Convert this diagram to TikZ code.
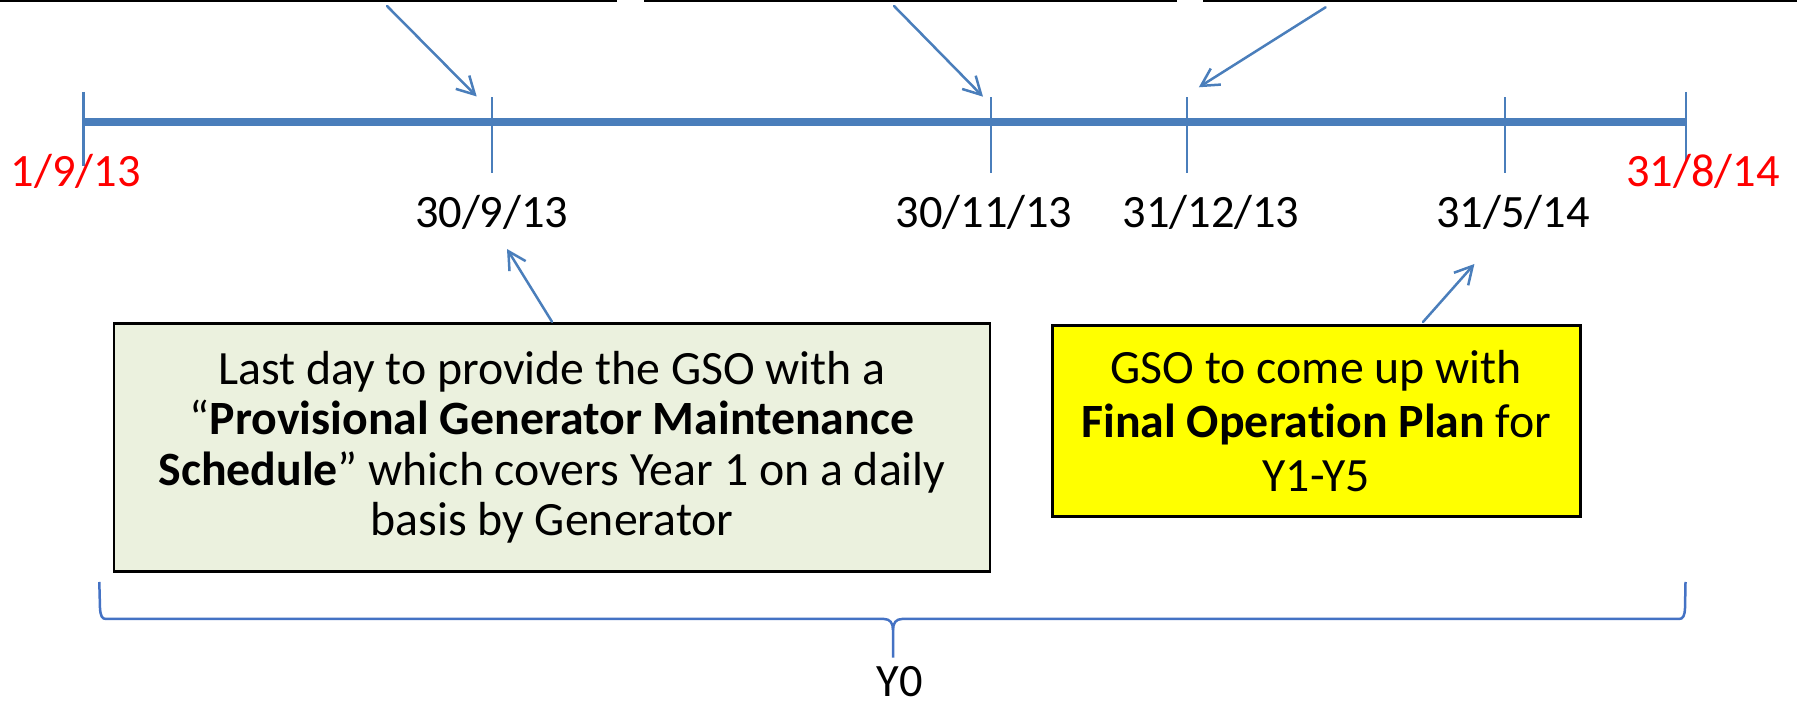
\documentclass[tikz,border=0pt]{standalone}
\usepackage{fontspec}
\setmainfont{Carlito}[Ligatures={TeX,NoCommon}]
\usetikzlibrary{arrows.meta}

\definecolor{axisblue}{HTML}{4A7EBB}
\definecolor{braceblue}{HTML}{4472C4}
\definecolor{notegreen}{HTML}{EBF1DE}
\definecolor{noteyellow}{HTML}{FFFF00}

\begin{document}
\begin{tikzpicture}[x=0.1mm, y=-0.1mm,
  timeline/.style={draw=axisblue, line width=0.8mm},
  endtick/.style={draw=axisblue, line width=0.22mm},
  datetick/.style={draw=axisblue, line width=0.22mm},
  pointer/.style={draw=axisblue, line width=0.25mm, line cap=round, line join=round,
    -{Straight Barb[length=1.75mm, width=1.9mm]}},
  datelabel/.style={font=\fontsize{13.2}{16.1}\selectfont, inner sep=0pt, anchor=base},
  yearlabel/.style={datelabel, text=red},
  notebox/.style={draw=black, line width=0.28mm, align=center, inner sep=0pt},
  sheetbox/.style={draw=black, line width=0.35mm, inner sep=0pt, anchor=south west,
    minimum height=10mm},
  bracket/.style={draw=braceblue, line width=0.25mm, line join=round},
]
\useasboundingbox (0,0) rectangle (1797,705);
\clip (0,0) rectangle (1797,705);

% boxes along the top edge
\node[sheetbox, minimum width=71.3mm] (sheetA) at (-100,1.6) {};
\node[sheetbox, minimum width=52.9mm] (sheetB) at (644,1.6) {};
\node[sheetbox, minimum width=70mm]   (sheetC) at (1203,1.6) {};

% timeline with end ticks
\coordinate (tStart) at (83.4,122);
\coordinate (tEnd)   at (1686,122);
\draw[timeline] (tStart) -- (tEnd);
\draw[endtick] (83.4,92) -- (83.4,166);
\draw[endtick] (1686,92) -- (1686,162);

% date ticks
\foreach \x in {492,990.7,1187,1505}
  \draw[datetick] (\x,97.3) -- (\x,172.7);

% date labels
\node[yearlabel] (dStart) at (75.6,186.7) {1/9/13};
\node[yearlabel] (dEnd)   at (1703,186.7) {31/8/14};
\node[datelabel] (dSep)   at (491.7,228) {30/9/13};
\node[datelabel] (dNov)   at (984,228)   {30/11/13};
\node[datelabel] (dDec)   at (1211,228)  {31/12/13};
\node[datelabel] (dMay)   at (1512.8,228) {31/5/14};

% pointers from the top boxes
\coordinate (ptrA) at (387,6);    \coordinate (hitA) at (476.7,96.5);
\coordinate (ptrB) at (894,6);    \coordinate (hitB) at (983,96.7);
\coordinate (ptrC) at (1325.6,7.3); \coordinate (hitC) at (1198.8,87.3);
\draw[pointer] (ptrA) -- (hitA);
\draw[pointer] (ptrB) -- (hitB);
\draw[pointer] (ptrC) -- (hitC);

% notes below the timeline
\node[notebox, fill=notegreen, minimum width=87.6mm, minimum height=24.8mm,
      font=\fontsize{13.6}{14.4}\selectfont] (prov)
  at (552,447.2)
  {Last day to provide the GSO with a\\
   “\textbf{Provisional Generator Maintenance}\\
   \textbf{Schedule}” which covers Year 1 on a daily\\
   basis by Generator};
% the kern keeps "t" and "i" as separate letters
\node[notebox, fill=noteyellow, minimum width=52.8mm, minimum height=19.1mm,
      font=\fontsize{13.6}{15.3}\selectfont] (plan)
  at (1316.3,421)
  {GSO to come up with\\
   \textbf{Final Operat\kern0pt ion Plan} for\\
   Y1-Y5};

\coordinate (hitE) at (507,249);
\coordinate (ptrF) at (1423,322);
\coordinate (hitF) at (1474.4,264);
\draw[pointer] (prov.north) -- (hitE);
\draw[pointer] (ptrF) -- (hitF);

% brace spanning the year
\draw[bracket] (99.3,582) -- (100,608) .. controls (100.5,616) and (102,619) .. (106,619)
  -- (884,619) .. controls (890,619) and (893,623) .. (893,630) -- (893,657.7);
\draw[bracket] (893,630) .. controls (893,623) and (896,619) .. (902,619)
  -- (1679,619) .. controls (1683,619) and (1684.6,616) .. (1685,608) -- (1685.5,582);
\node[datelabel] (year) at (900,697) {Y0};
\end{tikzpicture}
\end{document}
